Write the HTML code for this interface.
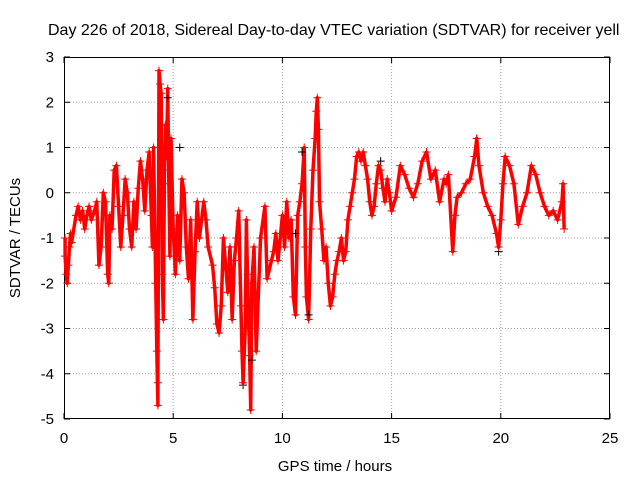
<!DOCTYPE html>
<html><head><meta charset="utf-8"><style>
html,body{margin:0;padding:0;background:#fff;}
svg{display:block;font-family:"Liberation Sans",sans-serif;}
</style></head><body>
<svg id="chart" width="640" height="480">
<rect width="640" height="480" fill="#fff"/>
<text x="48" y="35" font-size="16" fill="#000">Day 226 of 2018, Sidereal Day-to-day VTEC variation (SDTVAR) for receiver yell</text>
<g id="grid"></g>
<g id="axes"></g>
<g id="marks"></g>
<text x="335" y="471" font-size="15" text-anchor="middle">GPS time / hours</text>
<text transform="translate(20,238) rotate(-90)" font-size="15" text-anchor="middle">SDTVAR / TECUs</text>
</svg>
<script>
const xTicks=[0,5,10,15,20,25];
const yTicks=[3,2,1,0,-1,-2,-3,-4,-5];
const redT=[0.05,0.05,0.1,0.15,0.2,0.25,0.3,0.35,0.55,0.65,0.75,0.85,0.95,1.05,1.15,1.25,1.4,1.5,1.6,1.7,1.8,1.9,2.0,2.05,2.1,2.2,2.3,2.4,2.5,2.6,2.7,2.8,2.9,3.0,3.1,3.2,3.3,3.4,3.5,3.6,3.7,3.8,3.9,4.0,4.05,4.1,4.2,4.25,4.3,4.3,4.35,4.4,4.45,4.5,4.55,4.6,4.65,4.7,4.75,4.8,4.85,4.9,5.0,5.1,5.2,5.3,5.4,5.5,5.6,5.7,5.8,5.9,6.0,6.1,6.2,6.4,6.5,6.6,6.8,6.9,7.0,7.1,7.2,7.3,7.4,7.5,7.6,7.7,7.8,7.9,8.0,8.1,8.15,8.2,8.3,8.35,8.4,8.5,8.55,8.6,8.7,8.8,9.0,9.2,9.3,9.5,9.6,9.7,9.8,10.0,10.1,10.2,10.3,10.4,10.5,10.6,10.7,10.8,10.9,11.0,11.05,11.1,11.2,11.3,11.4,11.5,11.55,11.6,11.65,11.7,11.8,11.9,12.0,12.1,12.2,12.3,12.4,12.5,12.6,12.7,12.8,12.9,13.0,13.1,13.2,13.3,13.4,13.5,13.6,13.7,13.8,13.9,14.0,14.1,14.2,14.3,14.4,14.5,14.6,14.7,14.8,14.9,15.0,15.2,15.4,15.6,15.8,16.0,16.2,16.4,16.6,16.8,17.0,17.2,17.4,17.5,17.6,17.8,17.9,18.0,18.2,18.4,18.6,18.8,18.9,19.0,19.2,19.4,19.6,19.8,19.9,20.0,20.1,20.2,20.4,20.6,20.8,21.0,21.2,21.4,21.6,21.8,22.0,22.2,22.4,22.6,22.8,22.85,22.9];
const redV=[-1.0,-1.4,-1.8,-2.0,-1.6,-1.2,-0.9,-1.1,-0.5,-0.3,-0.6,-0.4,-0.8,-0.5,-0.3,-0.6,-0.4,-0.2,-1.6,-1.2,0.0,-0.2,-1.8,-2.0,-0.5,-0.8,0.5,0.6,-0.3,-1.2,-0.5,0.3,0.0,-0.8,-1.2,-0.2,-0.8,0.1,0.7,0.3,-0.4,0.5,0.9,-0.5,-1.2,1.0,-2.0,-3.5,-4.7,-4.2,2.7,2.4,2.2,-1.8,-2.8,0.5,1.5,0.8,2.3,0.2,-1.4,1.2,-0.8,-1.8,-0.5,-1.5,0.3,0.0,-1.2,-1.9,-0.6,-2.8,-1.3,-0.2,-1.0,-0.2,-0.6,-1.2,-1.6,-2.1,-2.9,-3.1,-2.5,-1.0,-1.6,-2.2,-1.2,-2.8,-1.5,-1.0,-0.4,-2.5,-3.5,-4.2,-3.0,-0.6,-1.8,-3.6,-4.8,-2.0,-1.2,-3.5,-1.0,-0.3,-1.9,-1.5,-1.3,-0.9,-1.5,-0.5,-1.2,-0.2,-1.0,-0.6,-2.3,-2.7,-0.5,-0.2,0.2,1.0,-1.2,-2.3,-2.8,-0.8,0.5,1.2,1.8,2.1,1.4,-0.2,-0.8,-1.5,-1.2,-2.0,-2.5,-2.3,-1.8,-1.5,-1.3,-1.0,-1.5,-1.3,-0.6,-0.3,0.0,0.3,0.8,0.9,0.7,0.9,0.6,0.3,-0.2,-0.5,-0.3,0.2,0.6,0.5,0.1,-0.2,0.3,0.0,-0.4,-0.1,0.6,0.4,0.1,-0.1,0.2,0.7,0.9,0.3,0.5,-0.2,0.3,0.2,0.4,-1.3,-0.5,-0.1,0.0,0.2,0.3,0.8,1.2,0.6,0.0,-0.3,-0.5,-0.9,-1.2,-0.6,0.2,0.8,0.6,0.2,-0.7,-0.3,0.0,0.6,0.4,0.0,-0.3,-0.5,-0.4,-0.6,-0.2,0.2,-0.8];
const blackT=[4.75,5.3,8.2,8.6,10.6,10.9,11.2,14.5,18.9,19.9];
const blackV=[2.1,1.0,-4.25,-3.7,-0.9,0.9,-2.7,0.7,1.2,-1.3];
const X0=64,X1=610,Y0=57,Y1=419;
const xs=t=>X0+(t-0)/(25-0)*(X1-X0);
const ys=v=>Y1-(v+5)/(3+5)*(Y1-Y0);
const NS="http://www.w3.org/2000/svg";
const mk=(tag,attrs,parent)=>{const e=document.createElementNS(NS,tag);for(const k in attrs)e.setAttribute(k,attrs[k]);parent.appendChild(e);return e;};
const grid=document.getElementById('grid'),axes=document.getElementById('axes'),marks=document.getElementById('marks');
xTicks.forEach(t=>{const x=xs(t);
 if(t>0&&t<25){const g=mk('line',{x1:x,x2:x,y1:Y0,y2:Y1,stroke:'#a0a0a0','stroke-dasharray':'1,2','stroke-width':1},grid);
 
 }
 mk('line',{x1:x,x2:x,y1:Y1,y2:Y1-6,stroke:'#000'},axes);
 mk('line',{x1:x,x2:x,y1:Y0,y2:Y0+6,stroke:'#000'},axes);
 const l=mk('text',{x:x,y:Y1+24,'font-size':15,'text-anchor':'middle'},axes);l.textContent=t;
 
 
});
yTicks.forEach(v=>{const y=ys(v);
 if(v<3&&v>-5){const g=mk('line',{x1:X0,x2:X1,y1:y,y2:y,stroke:'#a0a0a0','stroke-dasharray':'1,2','stroke-width':1},grid);
 
 }
 mk('line',{x1:X0,x2:X0+6,y1:y,y2:y,stroke:'#000'},axes);
 mk('line',{x1:X1,x2:X1-6,y1:y,y2:y,stroke:'#000'},axes);
 const l=mk('text',{x:X0-10,y:y+5,'font-size':15,'text-anchor':'end'},axes);l.textContent=v;
 
 
});
const frame=mk('rect',{x:X0+0.5,y:Y0+0.5,width:X1-X0-1,height:Y1-Y0-1,fill:'none',stroke:'#000'},axes);


const pts=redT.map((t,i)=>xs(t)+','+ys(redV[i])).join(' ');
const pl=mk('polyline',{points:pts,fill:'none',stroke:'#ff0000','stroke-width':3.5,'stroke-linejoin':'round'},marks);


function plus(x,y,c,name){const p=mk('path',{d:`M${x-4},${y}h8M${x},${y-4}v8`,stroke:c,'stroke-width':1},marks);
 
 }
blackT.forEach((t,i)=>plus(xs(t),ys(blackV[i]),'#000','black-point'));
redT.forEach((t,i)=>plus(xs(t),ys(redV[i]),'#ff0000','red-point'));
</script>
</body></html>
